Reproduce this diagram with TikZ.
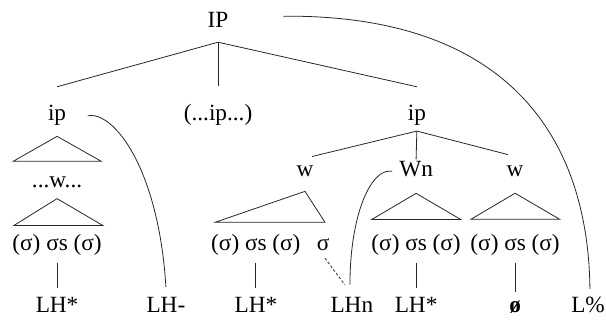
\documentclass[tikz,border=0pt]{standalone}
\usepackage{fontspec}
\setmainfont{Liberation Serif}
\usetikzlibrary{positioning, calc}

\begin{document}
\begin{tikzpicture}[
        tone/.style={inner sep=0pt, anchor=base, font=\fontsize{17.5}{21}\selectfont},
        branch/.style={draw=black!85, line width=0.6pt},
        assoc/.style={draw=black!85, line width=0.6pt, dash pattern=on 2pt off 1.5pt}
    ]
        \useasboundingbox (0,0) rectangle (16.035,-8.6);
        % prosodic levels
        \node[tone] (IP) at (5.77,-0.74) {IP};
        \node[tone] (ipL) at (1.51,-3.20) {ip};
        \node[tone] (ipM) at (5.77,-3.20) {(...ip...)};
        \node[tone] (ipR) at (11.03,-3.20) {ip};
        \node[tone] (wdots) at (1.51,-4.95) {...w...};
        \node[tone] (wA) at (8.07,-4.68) {w};
        \node[tone] (wB) at (11.01,-4.68) {Wn};
        \node[tone] (wC) at (13.63,-4.68) {w};
        % syllables
        \node[tone] (sylL) at (1.51,-6.64) {(σ) σs (σ)};
        \node[tone] (sylA) at (6.77,-6.64) {(σ) σs (σ)};
        \node[tone] (sigA) at (8.55,-6.64) {σ};
        \node[tone] (sylB) at (11.01,-6.64) {(σ) σs (σ)};
        \node[tone] (sylC) at (13.63,-6.64) {(σ) σs (σ)};
        % tones
        \node[tone] (tL) at (1.51,-8.28) {LH*};
        \node[tone] (tLm) at (4.39,-8.28) {LH-};
        \node[tone] (tA) at (6.77,-8.28) {LH*};
        \node[tone] (tn) at (9.31,-8.28) {LHn};
        \node[tone] (tB) at (11.01,-8.28) {LH*};
        \node[tone] (tC) at (13.63,-8.28) {\bfseries ø};
        \node[tone] (tIP) at (15.56,-8.28) {L\%};
        % IP branches
        \draw[branch] ([yshift=-0.37cm]IP.south) -- ([yshift=0.49cm]ipL.north);
        \draw[branch] ([yshift=-0.37cm]IP.south) -- ([yshift=0.48cm]ipM.north);
        \draw[branch] ([yshift=-0.37cm]IP.south) -- ([yshift=0.49cm]ipR.north);
        % left ip
        \draw[branch] ([yshift=-0.27cm]ipL.south) -- ++(-1.16,-0.66) -- ++(2.33,0) -- cycle;
        \draw[branch] ([yshift=-0.29cm]wdots.south) -- ++(-1.14,-0.71) -- ++(2.35,0) -- cycle;
        \draw[branch] ([yshift=-0.17cm]sylL.south) -- ([yshift=0.24cm]tL.north);
        % right ip
        \draw[branch] ([yshift=-0.13cm]ipR.south) -- ([xshift=0.19cm, yshift=0.25cm]wA.north);
        \draw[branch] ([yshift=-0.13cm]ipR.south) -- ([yshift=0.05cm]wB.north);
        \draw[branch] ([yshift=-0.13cm]ipR.south) -- ([xshift=-0.19cm, yshift=0.30cm]wC.north);
        \draw[branch] ([yshift=-0.37cm]wA.south) -- ++(-2.38,-0.82) -- ++(2.91,0) -- cycle;
        \draw[branch] ([yshift=-0.42cm]wB.south) -- ++(-1.17,-0.69) -- ++(2.35,0) -- cycle;
        \draw[branch] ([yshift=-0.42cm]wC.south) -- ++(-1.17,-0.69) -- ++(2.35,0) -- cycle;
        \draw[branch] ([yshift=-0.17cm]sylA.south) -- ([yshift=0.24cm]tA.north);
        \draw[branch] ([yshift=-0.17cm]sylB.south) -- ([yshift=0.24cm]tB.north);
        \draw[branch] ([yshift=-0.17cm]sylC.south) -- ([yshift=0.24cm]tC.north);
        \draw[assoc] ([xshift=0.05cm, yshift=-0.18cm]sigA.south) -- ([xshift=-0.19cm, yshift=0.34cm]tn.north);
        % edge tone links
        \draw[branch] ([xshift=0.56cm]ipL.east) .. controls +(0.71,0.13) and +(-0.19,3.10) .. ([yshift=0.28cm]tLm.north);
        \draw[branch] ([xshift=-0.18cm, yshift=-0.05cm]wB.west) .. controls +(-0.56,0.11) and +(0,1.85) .. ([xshift=-0.05cm, yshift=0.34cm]tn.north);
        \draw[branch] ([xshift=1.45cm, yshift=0.11cm]IP.east) .. controls +(5.74,0.05) and +(-0.05,4.21) .. ([xshift=0.05cm, yshift=0.22cm]tIP.north);
    \end{tikzpicture}
\end{document}
